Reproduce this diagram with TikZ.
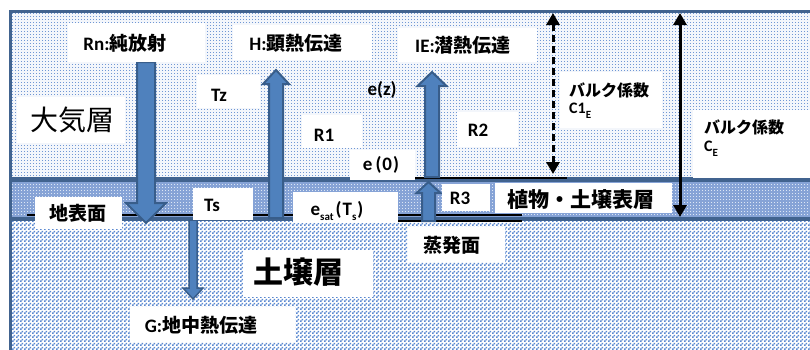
\documentclass[tikz,border=0pt]{standalone}
\usepackage{fontspec}
\setmainfont{Carlito}
\newfontfamily\cjk{Noto Sans CJK JP}
\usetikzlibrary{patterns,arrows.meta}
\definecolor{atmfill}{HTML}{F3F6FB}
\definecolor{atmdot}{HTML}{7097D4}
\definecolor{surffill}{HTML}{86A3D6}
\definecolor{surfdot}{HTML}{DCE6F5}
\definecolor{soilfill}{HTML}{FFFFFF}
\definecolor{soildot}{HTML}{5A88D0}
\definecolor{framec}{HTML}{41638F}
\definecolor{arrfill}{HTML}{4F81BD}
\definecolor{arrline}{HTML}{385D8A}
\pgfdeclarepatternformonly{soilchk}{\pgfqpoint{0pt}{0pt}}{\pgfqpoint{4pt}{4pt}}{\pgfqpoint{4pt}{4pt}}{%
  \pgfpathrectangle{\pgfqpoint{0pt}{0pt}}{\pgfqpoint{2pt}{2pt}}%
  \pgfpathrectangle{\pgfqpoint{2pt}{2pt}}{\pgfqpoint{2pt}{2pt}}%
  \pgfusepath{fill}}
\pgfdeclarepatternformonly{finedots}{\pgfqpoint{0pt}{0pt}}{\pgfqpoint{3pt}{3pt}}{\pgfqpoint{3pt}{3pt}}{%
  \pgfpathrectangle{\pgfqpoint{0pt}{0pt}}{\pgfqpoint{1.1pt}{1.1pt}}%
  \pgfusepath{fill}}
\newcommand{\jp}[1]{{\cjk #1}}
\newcommand{\subtx}[1]{\raisebox{-0.3em}{\fontsize{11}{11}\selectfont #1}}
\newcommand{\blkarrow}[7]{%
  \filldraw[blockarr,line width=#7] (#1-#5,#2) -- (#1-#5,#3) -- (#1-#6,#3) -- (#1,#4) -- (#1+#6,#3) -- (#1+#5,#3) -- (#1+#5,#2) -- cycle;}
\tikzset{
  wbox/.style={fill=white, draw=none, inner sep=0pt, outer sep=0pt, anchor=north west},
  lbl/.style={inner sep=0pt, font=\bfseries\fontsize{19}{21}\selectfont},
  lblsm/.style={inner sep=0pt, font=\bfseries\fontsize{16}{18}\selectfont},
  lblmid/.style={inner sep=0pt, font=\bfseries\fontsize{21}{23}\selectfont},
  lblbig/.style={inner sep=0pt, font=\fontsize{28}{30}\selectfont},
  blockarr/.style={fill=arrfill, draw=arrline, line join=miter},
  blkline/.style={black, line width=2pt},
  dimarrow/.style={black, line width=3pt, {Triangle[width=13pt,length=12pt]}-{Triangle[width=13pt,length=12pt]}},
}
\begin{document}
\begin{tikzpicture}[x=1pt,y=-1pt]
\useasboundingbox (0,0) rectangle (810,349);
% layers
\path[fill=soilfill] (10,218) rectangle (815,355);
\path[pattern=soilchk, pattern color=soildot] (10,218) rectangle (815,355);
\path[fill=surffill] (10,179) rectangle (815,218);
\path[pattern=finedots, pattern color=surfdot] (10,179) rectangle (815,218);
\path[fill=atmfill] (10,11) rectangle (815,179);
\path[pattern=finedots, pattern color=atmdot] (10,11) rectangle (815,179);
\draw[framec, line width=4.5pt] (10,179.5) -- (815,179.5);
\draw[framec, line width=4pt] (10,218.5) -- (815,218.5);
\draw[framec, line width=3pt] (10,355) -- (10,11) -- (815,11);
% surface lines
\coordinate (gL) at (27,215);  \coordinate (gR) at (522,215);
\coordinate (vL) at (388,221); \coordinate (vR) at (522,221);
\coordinate (eL) at (413,178); \coordinate (eR) at (567,178);
\draw[blkline] (gL) -- (gR);
\draw[blkline] (vL) -- (vR);
\draw[blkline] (eL) -- (eR);
% bulk coefficient arrows
\coordinate (d1t) at (553,13); \coordinate (d1b) at (553,174);
\coordinate (d2t) at (680,13); \coordinate (d2b) at (680,217);
\draw[dimarrow, dash pattern=on 7pt off 4pt] (d1t) -- (d1b);
\draw[dimarrow] (d2t) -- (d2b);
% block arrows
\blkarrow{146}{62}{203}{223}{9}{20}{2pt}
\blkarrow{276}{218}{84}{70}{7}{13}{2pt}
\blkarrow{432}{177}{86}{72}{7}{14.5}{2pt}
\blkarrow{428.5}{221}{193}{182}{6.5}{12}{2pt}
\blkarrow{193}{220}{288}{299}{4}{10}{1.5pt}
% white boxes
\node[wbox, minimum width=137pt, minimum height=39pt] (bRn) at (68,23) {};
\node[wbox, minimum width=139pt, minimum height=35pt] (bH) at (233,25) {};
\node[wbox, minimum width=139pt, minimum height=34pt] (bIE) at (398,28) {};
\node[wbox, minimum width=63pt, minimum height=33pt] (bTz) at (197,75) {};
\node[wbox, minimum width=60pt, minimum height=33pt] (bR1) at (302,115) {};
\node[wbox, minimum width=65pt, minimum height=30pt] (be0) at (350,150) {};
\node[wbox, minimum width=61pt, minimum height=35pt] (bR2) at (457,112) {};
\node[wbox, minimum width=102pt, minimum height=56pt] (bB1) at (560,72) {};
\node[wbox, minimum width=120pt, minimum height=68pt] (bB2) at (693,110) {};
\node[wbox, minimum width=108pt, minimum height=46pt] (bAtm) at (17,97) {};
\node[wbox, minimum width=87pt, minimum height=32pt] (bSurf) at (35,197) {};
\node[wbox, minimum width=60pt, minimum height=32pt] (bTs) at (193,188) {};
\node[wbox, minimum width=105pt, minimum height=31pt] (besat) at (293,192) {};
\node[wbox, minimum width=97pt, minimum height=35pt] (bEvap) at (408,227) {};
\node[wbox, minimum width=48pt, minimum height=27pt] (bR3) at (442,184) {};
\node[wbox, minimum width=177pt, minimum height=30pt] (bVeg) at (495,183) {};
\node[wbox, minimum width=130pt, minimum height=47pt] (bSoil) at (243,250) {};
\node[wbox, minimum width=165pt, minimum height=35pt] (bG) at (130,307) {};
% texts
\node[lbl] (tRn) at (125,43) {Rn:\jp{純放射}};
\node[lbl] (tH) at (296,43) {H:\jp{顕熱伝達}};
\node[lbl] (tIE) at (463,45) {IE:\jp{潜熱伝達}};
\node[lbl] (tTz) at (219,95) {Tz};
\node[lbl] (tez) at (382,90) {e(z)};
\node[lbl] (tR1) at (324,135) {R1};
\node[lbl] (te0) at (381,165) {e\hspace{3pt}(\hspace{1pt}0\hspace{1pt})};
\node[lbl] (tR2) at (478,130) {R2};
\node[lblsm] (tB1) at (609,90) {\jp{バルク係数}};
\node[lblsm, anchor=west] (tC1) at (569,111) {C1\subtx{E}};
\node[lblsm] (tB2) at (744,127) {\jp{バルク係数}};
\node[lblsm, anchor=west] (tC2) at (704,149) {C\subtx{E}};
\node[lblbig] (tAtm) at (72,120) {\jp{大気層}};
\node[lbl] (tSurf) at (78,213) {\jp{地表面}};
\node[lbl] (tTs) at (212,205) {Ts};
\node[lbl] (tesat) at (337,211) {e\subtx{sat}\hspace{2pt}(\hspace{1pt}T\subtx{s}\hspace{1pt})};
\node[lbl] (tEvap) at (452,245) {\jp{蒸発面}};
\node[lbl] (tR3) at (460,198) {R3};
\node[lblmid] (tVeg) at (581,200) {\jp{植物・土壌表層}};
\node[lblbig, font=\bfseries\fontsize{30}{32}\selectfont] (tSoil) at (298,272) {\jp{土壌層}};
\node[lbl] (tG) at (201,325) {G:\jp{地中熱伝達}};
\end{tikzpicture}
\end{document}
